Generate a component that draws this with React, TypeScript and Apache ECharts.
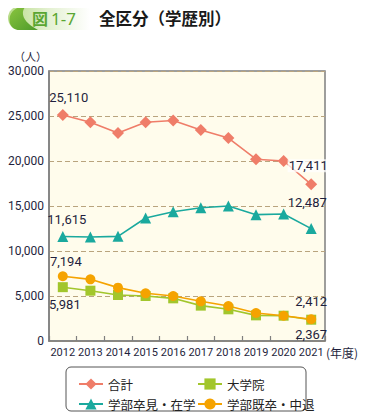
import React, { useEffect, useRef } from "react";
import * as echarts from "echarts";

const years = ["2012", "2013", "2014", "2015", "2016", "2017", "2018", "2019", "2020", "2021"];
const yTicks = [0, 5000, 10000, 15000, 20000, 25000, 30000];
const totalVals = [25110, 24300, 23100, 24300, 24500, 23450, 22550, 20200, 20000, 17411];
const gradVals = [5981, 5590, 5110, 5000, 4740, 3930, 3520, 2850, 2810, 2367];
const currentVals = [11615, 11550, 11630, 13670, 14370, 14810, 15000, 14040, 14110, 12487];
const formerVals = [7194, 6850, 5930, 5300, 5000, 4410, 3890, 3110, 2810, 2412];

const NUM_FONT = "Roboto, 'Noto Sans', sans-serif";
const JP_FONT = "'Noto Sans CJK JP', sans-serif";
const LABEL_COLOR = "#1f1f3d";

echarts.graphic.registerShape(
  "leaf",
  echarts.graphic.extendPath("M12,24 C4,24 0,18 2,10 C4,4 10,0 18,0 C12,6 14,16 30,24 Z", {})
);

function fmt(v: number) {
  return v.toLocaleString("en-US");
}

function withLabels(vals: number[], first: any, last: any) {
  return vals.map((v, i) => {
    if (i === 0) return { value: v, label: { show: true, ...first } };
    if (i === vals.length - 1) return { value: v, label: { show: true, ...last } };
    return v;
  });
}

const baseLabel = {
  formatter: (p: any) => fmt(p.value),
  color: LABEL_COLOR,
  fontSize: 13,
  fontFamily: NUM_FONT,
};

export default function App() {
  const ref = useRef<HTMLDivElement>(null);
  useEffect(() => {
    if (!ref.current) return;
    const chart = echarts.init(ref.current, null, { renderer: "svg" });
    const mkSeries = (name: string, vals: number[], color: string, symbol: string, size: number, first: any, last: any) => ({
      name,
      type: "line",
      data: withLabels(vals, first, last),
      symbol,
      symbolSize: size,
      itemStyle: { color },
      lineStyle: { color, width: 1.6 },
      label: { ...baseLabel, show: false },
      z: 3,
    });
    chart.setOption({
      animation: false,
      backgroundColor: "#ffffff",
      grid: {
        left: 49,
        right: 55,
        top: 71,
        bottom: 79,
        show: true,
        backgroundColor: "#fffcec",
        borderColor: "#7f7f7f",
        borderWidth: 1.5,
      },
      xAxis: {
        type: "category",
        data: years,
        boundaryGap: true,
        axisLine: { show: true, lineStyle: { color: "#7f7f7f", width: 1.5 } },
        axisTick: { show: true, inside: true, length: 5, alignWithLabel: false, lineStyle: { color: "#7f7f7f", width: 1.2 } },
        axisLabel: { color: LABEL_COLOR, fontSize: 11, fontFamily: NUM_FONT, margin: 6, interval: 0 },
        splitLine: { show: false },
      },
      yAxis: {
        type: "value",
        min: yTicks[0],
        max: yTicks[yTicks.length - 1],
        interval: 5000,
        axisLine: { show: true, lineStyle: { color: "#7f7f7f", width: 1.5 } },
        axisTick: { show: false },
        axisLabel: {
          color: LABEL_COLOR,
          fontSize: 12,
          fontFamily: NUM_FONT,
          margin: 5,
          formatter: (v: number) => fmt(v),
        },
        splitLine: { show: true, lineStyle: { color: "#b9a47e", type: [5, 3], width: 1.2 } },
      },
      legend: [
        {
          left: 73,
          top: 372,
          orient: "vertical",
          itemWidth: 24,
          itemHeight: 14,
          itemGap: 6,
          textStyle: { fontSize: 12.5, color: "#222", fontFamily: JP_FONT, lineHeight: 14 },
          data: ["合計", "学部卒見・在学"],
        },
        {
          left: 192,
          top: 372,
          orient: "vertical",
          itemWidth: 24,
          itemHeight: 14,
          itemGap: 6,
          textStyle: { fontSize: 12.5, color: "#222", fontFamily: JP_FONT, lineHeight: 14 },
          data: ["大学院", "学部既卒・中退"],
        },
      ],
      graphic: [
        {
          type: "rect",
          shape: { x: 66, y: 367, width: 240, height: 44, r: 5 },
          style: { fill: "#ffffff", stroke: "#555555", lineWidth: 1 },
          z: -1,
        },
        {
          type: "rect",
          shape: { x: 8, y: 6, width: 82, height: 24, r: [12, 0, 0, 12] },
          style: {
            fill: new echarts.graphic.LinearGradient(0, 0, 1, 0, [
              { offset: 0, color: "#b9dc8a" },
              { offset: 0.5, color: "#e4f1d2" },
              { offset: 1, color: "#ffffff" },
            ]),
          },
        },
        {
          type: "leaf",
          x: 8,
          y: 6,
          style: {
            fill: new echarts.graphic.LinearGradient(0, 0, 1, 1, [
              { offset: 0, color: "#8cc63f" },
              { offset: 1, color: "#4d9a2a" },
            ]),
          },
        },
        {
          type: "text",
          x: 32,
          y: 18,
          style: {
            text: "図",
            fill: "#5aa632",
            font: `bold 16px ${JP_FONT}`,
            verticalAlign: "middle",
          },
        },
        {
          type: "text",
          x: 51,
          y: 18,
          style: {
            text: "1-7",
            fill: "#5aa632",
            font: `17px 'Noto Sans', sans-serif`,
            verticalAlign: "middle",
          },
        },
        {
          type: "text",
          x: 99,
          y: 18,
          style: {
            text: "全区分（学歴別）",
            fill: "#1a1a1a",
            font: `bold 16.5px ${JP_FONT}`,
            verticalAlign: "middle",
          },
        },
        {
          type: "text",
          x: 14,
          y: 56,
          style: {
            text: "（人）",
            fill: LABEL_COLOR,
            font: `11px ${JP_FONT}`,
            verticalAlign: "middle",
          },
        },
        {
          type: "text",
          x: 326,
          y: 352,
          style: {
            text: "(年度)",
            fill: LABEL_COLOR,
            font: `12px ${JP_FONT}`,
            verticalAlign: "middle",
          },
        },
      ],
      series: [
        mkSeries("合計", totalVals, "#ef7d69", "diamond", 12,
          { position: "top", distance: 5, offset: [6, 0] },
          { position: "top", distance: 5, offset: [-3, -1], backgroundColor: "rgba(255,255,255,0.75)", padding: [0, 1] }),
        mkSeries("大学院", gradVals, "#a2c62c", "rect", 10,
          { position: "bottom", distance: 6, offset: [2, 0] },
          { position: "bottom", distance: 3, offset: [0, 0] }),
        mkSeries("学部卒見・在学", currentVals, "#1aa99e", "triangle", 11,
          { position: "top", distance: 5, offset: [4, 0] },
          { position: "top", distance: 10, offset: [-4, -4] }),
        mkSeries("学部既卒・中退", formerVals, "#f5a300", "circle", 10,
          { position: "top", distance: 3, offset: [3, 0] },
          { position: "top", distance: 6, offset: [0, 0] }),
      ],
    });
    return () => chart.dispose();
  }, []);
  return <div ref={ref} style={{ width: 380, height: 420, margin: -8 }} />;
}
